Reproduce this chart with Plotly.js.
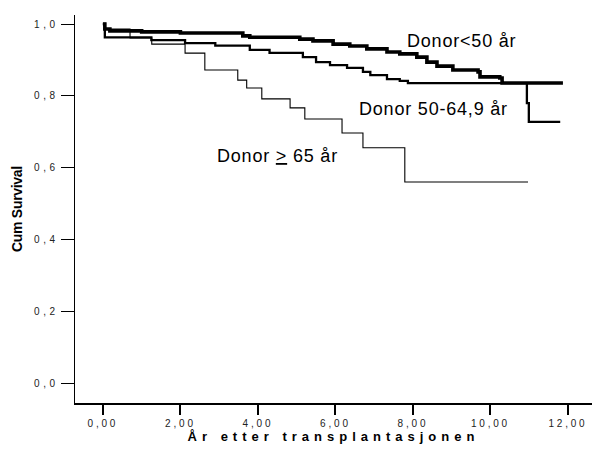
<!DOCTYPE html>
<html>
<head>
<meta charset="utf-8">
<script src="https://cdn.plot.ly/plotly-3.0.1.min.js"></script>
<style>
  html, body { margin: 0; padding: 0; background: #fff; }
  #chart { width: 602px; height: 454px; }
  .xtick text { letter-spacing: 2.8px; }
  .ytick text { letter-spacing: 3.5px; }
  .g-xtitle text { letter-spacing: 5px; }
  .g-ytitle text { letter-spacing: -0.3px; }
  .annotation-text { letter-spacing: 0.8px; }
</style>
</head>
<body>
<div id="chart"></div>
<script>
// Donor < 50 år
const timeUnder50 = [0, 0.05, 0.18, 1.0, 2.0, 3.61, 3.79, 5.08, 5.42, 5.94, 6.37, 6.81, 7.33, 7.66, 8.10, 8.36, 8.62, 9.03, 9.68, 9.73, 10.24, 10.30, 11.87];
const survUnder50 = [1.0, 0.986, 0.981, 0.978, 0.975, 0.967, 0.963, 0.958, 0.953, 0.944, 0.939, 0.931, 0.922, 0.917, 0.908, 0.894, 0.883, 0.872, 0.867, 0.853, 0.85, 0.836, 0.836];

// Donor 50-64,9 år
const time50to65 = [0, 0.05, 1.25, 2.12, 2.9, 3.79, 4.3, 5.16, 5.5, 5.86, 6.3, 6.71, 6.9, 7.33, 7.66, 7.87, 10.94, 10.99, 11.8];
const surv50to65 = [1.0, 0.963, 0.955, 0.947, 0.94, 0.928, 0.92, 0.908, 0.894, 0.886, 0.878, 0.867, 0.858, 0.847, 0.842, 0.836, 0.78, 0.728, 0.728];

// Donor >= 65 år
const time65plus = [0, 0.05, 0.70, 1.26, 2.12, 2.63, 3.48, 3.71, 4.10, 4.83, 5.21, 6.17, 6.71, 7.79, 10.97];
const surv65plus = [1.0, 0.986, 0.961, 0.944, 0.919, 0.872, 0.844, 0.822, 0.792, 0.767, 0.736, 0.697, 0.656, 0.561, 0.561];

const xTickVals = [0, 2, 4, 6, 8, 10, 12];
const xTickText = ["0,00", "2,00", "4,00", "6,00", "8,00", "10,00", "12,00"];
const yTickVals = [0, 0.2, 0.4, 0.6, 0.8, 1.0];
const yTickText = ["0,0", "0,2", "0,4", "0,6", "0,8", "1,0"];

const seriesLabels = ["Donor<50 år", "Donor 50-64,9 år", "Donor <span style=\"text-decoration:underline\">&gt;</span> 65 år"];

const font = "Arial, 'Liberation Sans', sans-serif";

const traces = [
  { x: time65plus, y: surv65plus, mode: "lines", line: { shape: "hv", color: "#000", width: 1.1 }, hoverinfo: "skip" },
  { x: time50to65, y: surv50to65, mode: "lines", line: { shape: "hv", color: "#000", width: 2.3 }, hoverinfo: "skip" },
  { x: timeUnder50, y: survUnder50, mode: "lines", line: { shape: "hv", color: "#000", width: 3.6 }, hoverinfo: "skip" }
];

const layout = {
  width: 602, height: 454,
  margin: { l: 75, r: 10, t: 15, b: 51 },
  paper_bgcolor: "#fff", plot_bgcolor: "#fff",
  showlegend: false,
  font: { family: font, color: "#000" },
  xaxis: {
    range: [-0.72, 12.62],
    showgrid: false, zeroline: false,
    showline: true, linecolor: "#000", linewidth: 1.5,
    ticks: "outside", ticklen: 10, tickwidth: 2, tickcolor: "#000",
    tickvals: xTickVals, ticktext: xTickText,
    tickfont: { family: font, size: 10, color: "#222" },
    title: { text: "År etter transplantasjonen", font: { family: font, size: 13, color: "#000", weight: "bold" }, standoff: 4 }
  },
  yaxis: {
    range: [-0.053, 1.025],
    showgrid: false, zeroline: false,
    showline: true, linecolor: "#000", linewidth: 1.5,
    ticks: "outside", ticklen: 13, tickwidth: 1, tickcolor: "#000",
    tickvals: yTickVals, ticktext: yTickText,
    tickfont: { family: font, size: 10, color: "#222" },
    title: { text: "Cum Survival", font: { family: font, size: 14, color: "#000", weight: "bold" }, standoff: 8 }
  },
  annotations: [
    { x: 7.79, y: 0.953, xref: "x", yref: "y", text: seriesLabels[0], showarrow: false, xanchor: "left", yanchor: "middle", font: { family: font, size: 18, color: "#000" } },
    { x: 6.55, y: 0.764, xref: "x", yref: "y", text: seriesLabels[1], showarrow: false, xanchor: "left", yanchor: "middle", font: { family: font, size: 18, color: "#000" } },
    { x: 2.89, y: 0.633, xref: "x", yref: "y", text: seriesLabels[2], showarrow: false, xanchor: "left", yanchor: "middle", font: { family: font, size: 18, color: "#000" } }
  ]
};

Plotly.newPlot("chart", traces, layout, { staticPlot: true, displayModeBar: false });
</script>
</body>
</html>
